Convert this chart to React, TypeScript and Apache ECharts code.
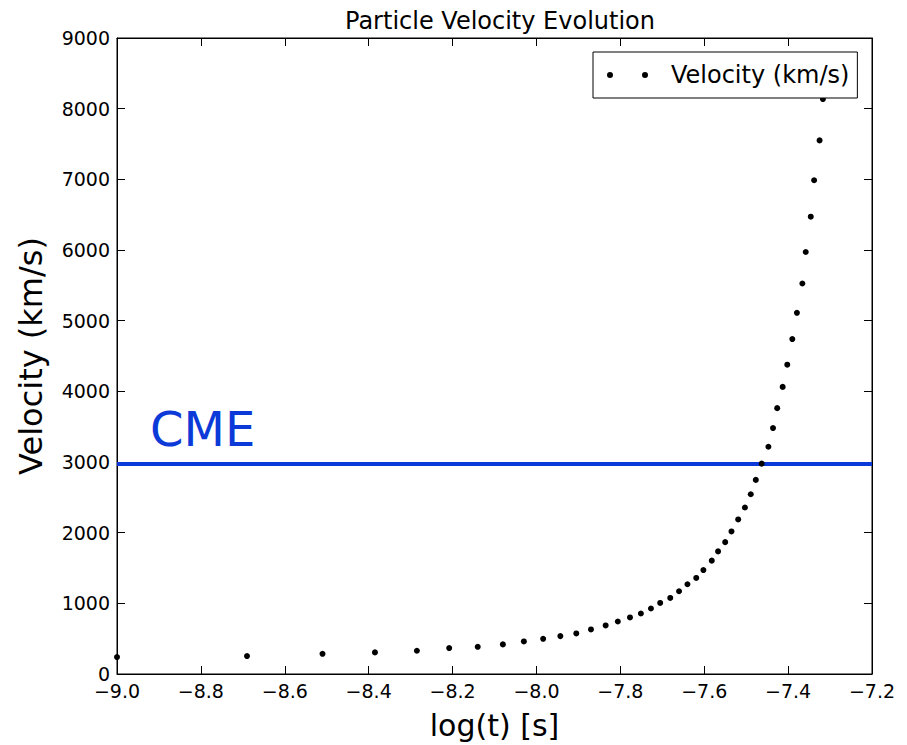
import React, { useEffect, useRef } from "react";
import * as echarts from "echarts";

// log(t) [s] positions of each sample
const logT = [
  -9.0, -8.69, -8.51, -8.385, -8.285, -8.208, -8.14, -8.08, -8.03, -7.984,
  -7.943, -7.905, -7.87, -7.835, -7.806, -7.777, -7.751, -7.727, -7.705, -7.681,
  -7.66, -7.64, -7.619, -7.602, -7.582, -7.567, -7.55, -7.535, -7.519, -7.503,
  -7.489, -7.477, -7.463, -7.447, -7.436, -7.426, -7.413, -7.402, -7.39, -7.379,
  -7.366, -7.358, -7.346, -7.338, -7.325, -7.317,
];
// velocity (km/s) of each sample
const velocity = [
  240, 254, 286, 306, 329, 367, 385, 419, 461, 498,
  536, 574, 631, 687, 743, 800, 856, 927, 1006, 1076,
  1171, 1270, 1359, 1471, 1604, 1735, 1866, 2017, 2187, 2356,
  2544, 2747, 2977, 3216, 3480, 3762, 4063, 4377, 4740, 5111,
  5526, 5972, 6471, 6987, 7551, 8136,
];
const cmeVelocity = 2970;
const xRange = [-9.0, -7.2];
const yRange = [0, 9000];

const BLUE = "#0b3ad8";
const FONT = "DejaVu Sans";

export default function App() {
  const ref = useRef<HTMLDivElement>(null);
  useEffect(() => {
    if (!ref.current) return;
    const chart = echarts.init(ref.current, null, { renderer: "svg" });
    const pts = logT.map((x, i) => [x, velocity[i]]);
    const tickCommon = { show: true, inside: true, length: 8, lineStyle: { color: "#000", width: 1 } };
    chart.setOption({
      animation: false,
      backgroundColor: "#fff",
      textStyle: { fontFamily: FONT, color: "#000" },
      title: {
        text: "Particle Velocity Evolution",
        left: 495,
        textAlign: "center",
        top: 4,
        textStyle: { fontFamily: FONT, fontSize: 24, fontWeight: "normal", color: "#000" },
      },
      grid: {
        left: 117,
        right: 35,
        top: 38,
        bottom: 69,
        show: true,
        borderColor: "#000",
        borderWidth: 1,
        backgroundColor: "#fff",
      },
      legend: {
        data: ["Velocity (km/s)"],
        left: 593,
        top: 52,
        orient: "horizontal",
        backgroundColor: "#fff",
        borderColor: "#000",
        borderWidth: 1,
        borderRadius: 0,
        padding: [11, 8, 11, 14],
        itemWidth: 41,
        itemHeight: 6,
        icon: "path://M0,3a3,3 0 1,0 6,0a3,3 0 1,0 -6,0zM35,3a3,3 0 1,0 6,0a3,3 0 1,0 -6,0z",
        textStyle: { fontFamily: FONT, fontSize: 24, color: "#000", padding: [0, 0, 0, 18] },
        z: 10,
      },
      xAxis: [
        {
          type: "value",
          min: xRange[0],
          max: xRange[1],
          interval: 0.2,
          name: "log(t) [s]",
          nameLocation: "middle",
          nameGap: 36,
          nameTextStyle: { fontFamily: FONT, fontSize: 30, color: "#000" },
          axisLine: { show: true, onZero: false, lineStyle: { color: "#000" } },
          axisTick: tickCommon,
          splitLine: { show: false },
          axisLabel: {
            fontFamily: FONT,
            fontSize: 19,
            color: "#000",
            margin: 7,
            formatter: (v: number) => v.toFixed(1).replace("-", "\u2212"),
          },
        },
        {
          type: "value",
          position: "top",
          min: xRange[0],
          max: xRange[1],
          interval: 0.2,
          axisLine: { show: true, onZero: false, lineStyle: { color: "#000" } },
          axisTick: tickCommon,
          axisLabel: { show: false },
          splitLine: { show: false },
        },
      ],
      yAxis: [
        {
          type: "value",
          min: yRange[0],
          max: yRange[1],
          interval: 1000,
          name: "Velocity (km/s)",
          nameLocation: "middle",
          nameGap: 70,
          nameTextStyle: { fontFamily: FONT, fontSize: 32, color: "#000" },
          axisLine: { show: true, onZero: false, lineStyle: { color: "#000" } },
          axisTick: tickCommon,
          splitLine: { show: false },
          axisLabel: {
            fontFamily: FONT,
            fontSize: 19,
            color: "#000",
            margin: 7,
            formatter: (v: number) => String(v),
          },
        },
        {
          type: "value",
          position: "right",
          min: yRange[0],
          max: yRange[1],
          interval: 1000,
          axisLine: { show: true, onZero: false, lineStyle: { color: "#000" } },
          axisTick: tickCommon,
          axisLabel: { show: false },
          splitLine: { show: false },
        },
      ],
      series: [
        {
          name: "CME",
          type: "line",
          data: [
            [xRange[0], cmeVelocity],
            [xRange[1], cmeVelocity],
          ],
          symbol: "none",
          lineStyle: { color: BLUE, width: 4 },
          z: 1,
          silent: true,
        },
        {
          name: "Velocity (km/s)",
          type: "scatter",
          data: pts,
          symbol: "circle",
          symbolSize: 6,
          itemStyle: { color: "#000", opacity: 1 },
          clip: true,
          z: 3,
        },
      ],
      graphic: [
        {
          type: "text",
          left: 150,
          top: 405,
          style: { text: "CME", fontFamily: FONT, fontSize: 48, fill: BLUE },
          z: 5,
        },
      ],
    });
    return () => chart.dispose();
  }, []);
  return (
    <div
      ref={ref}
      style={{ position: "fixed", left: 0, top: 0, width: 907, height: 745 }}
    />
  );
}
